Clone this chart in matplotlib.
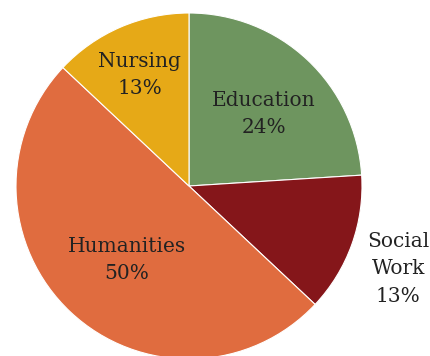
import numpy as np
import matplotlib
matplotlib.use("Agg")
import matplotlib.pyplot as plt

categories = ["Education", "Social\nWork", "Humanities", "Nursing"]
shares = [24, 13, 50, 13]
colors = ["#6E955F", "#85161A", "#E06C3F", "#E6A917"]
# label placement: radius (fraction of pie radius) and angular nudge in degrees
label_r = [0.60, 1.30, 0.56, 0.70]
label_dtheta = [-3.0, -1.8, 3.0, 0.5]

fig = plt.figure(figsize=(4.31, 3.56), dpi=100)
ax = fig.add_axes([0, 0, 1, 1])

wedges, _ = ax.pie(shares, colors=colors, startangle=90, counterclock=False,
                   radius=1.0, center=(0, 0),
                   wedgeprops=dict(edgecolor="white", linewidth=0.8))

for w, name, val, r, dt in zip(wedges, categories, shares, label_r, label_dtheta):
    mid = np.deg2rad((w.theta1 + w.theta2) / 2 + dt)
    ax.text(r * np.cos(mid), r * np.sin(mid), f"{name}\n{val}%",
            ha="center", va="center", fontsize=14.5, color="#222222",
            family="DejaVu Serif", linespacing=1.55)

R = 173.0
cx, cy = 189.0, 186.0
ax.set_xlim(-cx / R, (431 - cx) / R)
ax.set_ylim(-(356 - cy) / R, cy / R)
ax.set_aspect("equal")
ax.axis("off")

fig.savefig("out.png", dpi=100)
